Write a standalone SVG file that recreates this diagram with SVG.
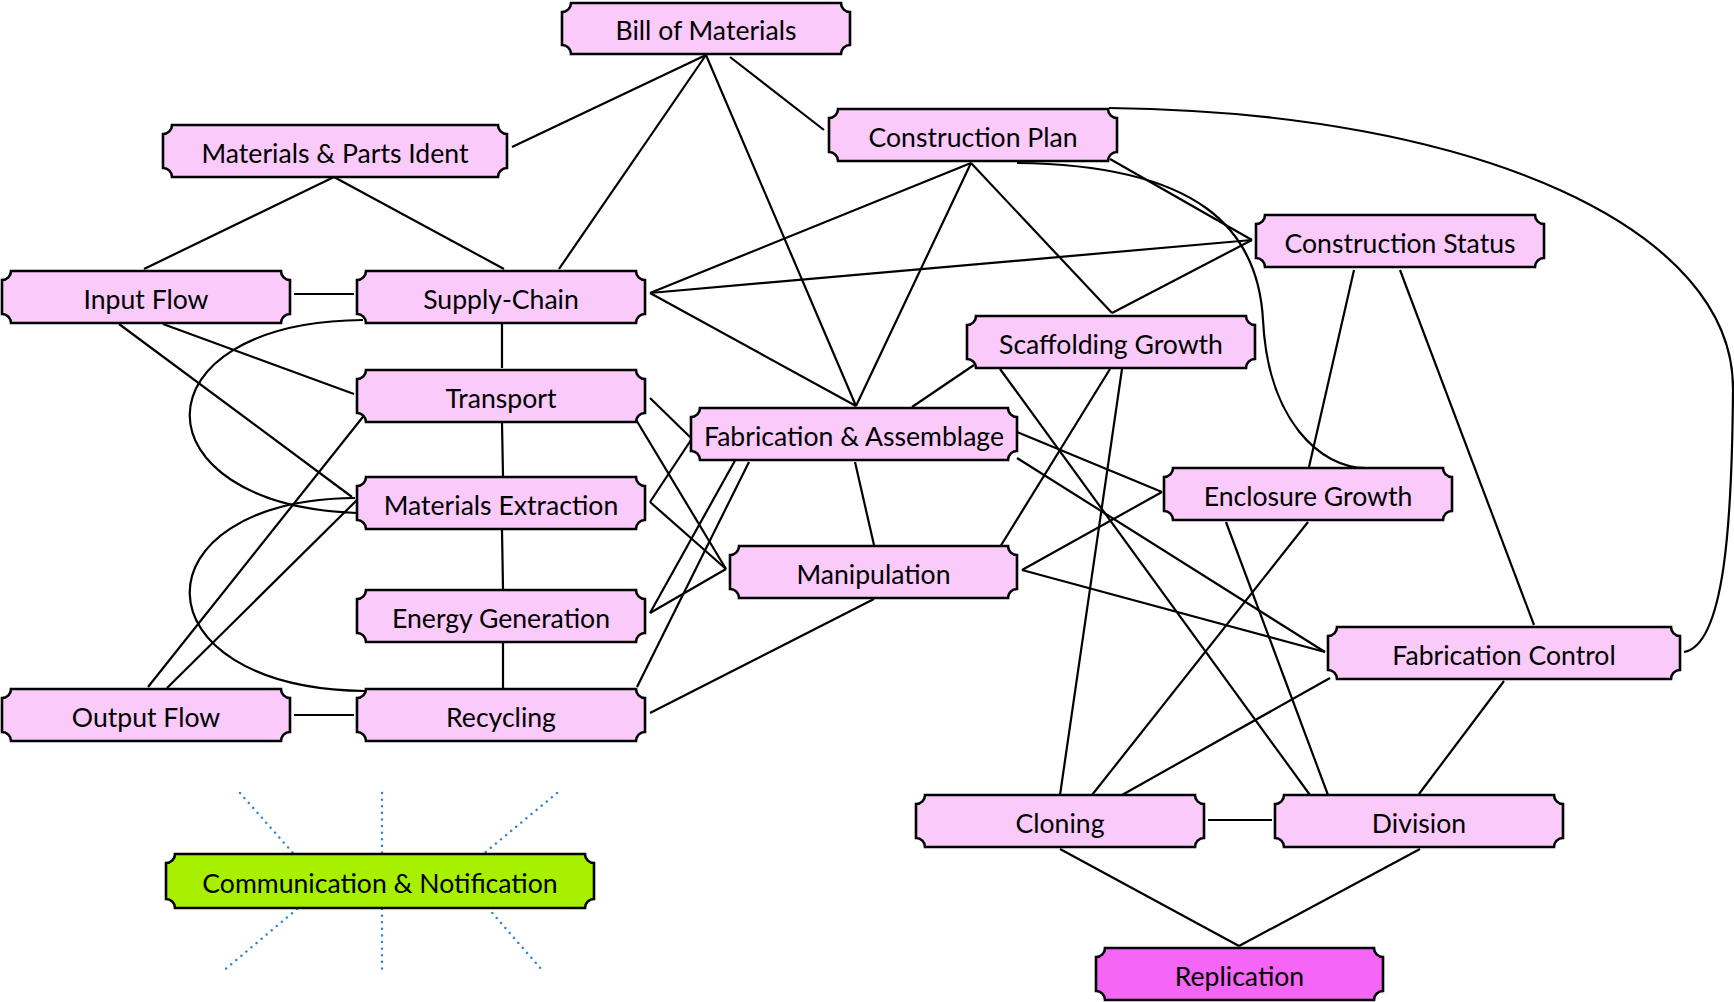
<svg xmlns="http://www.w3.org/2000/svg" width="1734" height="1002" viewBox="0 0 1734 1002">
<style>
.n path{fill:#facafb;stroke:#000;stroke-width:2.6}
.n.rep path{fill:#f565f6}
.n.com path{fill:#a6f000}
.n text{font-family:Lato,"Open Sans","Liberation Sans",sans-serif;font-size:26.6px;fill:#000;text-anchor:middle}
#edges line,#edges path{stroke:#000;stroke-width:2.2;fill:none}
#rays line{stroke:#2f7fd0;stroke-width:2.4;stroke-dasharray:0.1 6.5;stroke-linecap:round}
</style>
<rect width="1734" height="1002" fill="#fff"/>
<g id="edges">
<line x1="706" y1="55" x2="512" y2="147"/>
<line x1="706" y1="55" x2="559" y2="269"/>
<line x1="706" y1="55" x2="856" y2="406"/>
<line x1="730" y1="57" x2="824" y2="130"/>
<line x1="334" y1="177" x2="144" y2="269"/>
<line x1="334" y1="177" x2="504" y2="269"/>
<line x1="294" y1="294" x2="354" y2="294"/>
<line x1="119" y1="324" x2="352" y2="497"/>
<line x1="163" y1="324" x2="354" y2="394"/>
<line x1="502" y1="324" x2="502" y2="368"/>
<path d="M363,320 C133,322 133,505 357,513"/>
<line x1="650" y1="293" x2="971" y2="163"/>
<line x1="650" y1="293" x2="1252" y2="240"/>
<line x1="650" y1="293" x2="856" y2="406"/>
<line x1="502" y1="423" x2="503" y2="476"/>
<line x1="650" y1="398" x2="690" y2="437"/>
<line x1="635" y1="418" x2="726" y2="569"/>
<line x1="366" y1="413" x2="148" y2="687"/>
<line x1="357" y1="500" x2="167" y2="688"/>
<path d="M355,498 C133,500 133,688 365,691"/>
<line x1="650" y1="502" x2="691" y2="440"/>
<line x1="650" y1="502" x2="726" y2="569"/>
<line x1="502" y1="530" x2="503" y2="589"/>
<line x1="650" y1="613" x2="737" y2="457"/>
<line x1="650" y1="613" x2="726" y2="569"/>
<line x1="503" y1="643" x2="503" y2="688"/>
<line x1="637" y1="687" x2="749" y2="462"/>
<line x1="650" y1="713" x2="874" y2="599"/>
<line x1="294" y1="715" x2="354" y2="715"/>
<line x1="971" y1="163" x2="856" y2="406"/>
<line x1="971" y1="163" x2="1112" y2="313"/>
<line x1="1110" y1="159" x2="1252" y2="240"/>
<path d="M1017,163 C1200,165 1258,230 1263,320 C1268,420 1320,468 1366,468"/>
<path d="M1109,108 C1480,112 1735,230 1733,390 C1732,520 1725,645 1684,652"/>
<line x1="1252" y1="240" x2="1112" y2="313"/>
<line x1="1354" y1="270" x2="1309" y2="467"/>
<line x1="1400" y1="270" x2="1534" y2="625"/>
<line x1="974" y1="365" x2="912" y2="407"/>
<line x1="1110" y1="369" x2="1000" y2="547"/>
<line x1="1122" y1="369" x2="1060" y2="795"/>
<line x1="1000" y1="369" x2="1310" y2="795"/>
<line x1="855" y1="462" x2="874" y2="545"/>
<line x1="1017" y1="432" x2="1162" y2="492"/>
<line x1="1017" y1="458" x2="1325" y2="652"/>
<line x1="1022" y1="570" x2="1162" y2="492"/>
<line x1="1022" y1="570" x2="1325" y2="652"/>
<line x1="1308" y1="522" x2="1092" y2="795"/>
<line x1="1226" y1="522" x2="1328" y2="795"/>
<line x1="1330" y1="678" x2="1122" y2="795"/>
<line x1="1504" y1="681" x2="1419" y2="794"/>
<line x1="1208" y1="820" x2="1272" y2="820"/>
<line x1="1060" y1="849" x2="1239" y2="946"/>
<line x1="1420" y1="849" x2="1239" y2="946"/>
</g>
<g id="rays">
<line x1="240" y1="793" x2="293" y2="853"/>
<line x1="382" y1="793" x2="382" y2="853"/>
<line x1="557" y1="793" x2="482" y2="855"/>
<line x1="297" y1="909" x2="222" y2="972"/>
<line x1="382" y1="909" x2="382" y2="972"/>
<line x1="488" y1="908" x2="542" y2="970"/>
</g>
<g id="bill" class="n"><path d="M571,3 H841 A9 9 0 0 0 850,12 V45 A9 9 0 0 0 841,54 H571 A9 9 0 0 0 562,45 V12 A9 9 0 0 0 571,3 Z"/><text x="706" y="40">Bill of Materials</text></g>
<g id="mpi" class="n"><path d="M172,125 H498 A9 9 0 0 0 507,134 V168 A9 9 0 0 0 498,177 H172 A9 9 0 0 0 163,168 V134 A9 9 0 0 0 172,125 Z"/><text x="335" y="163">Materials &amp; Parts Ident</text></g>
<g id="cp" class="n"><path d="M838,109 H1108 A9 9 0 0 0 1117,118 V152 A9 9 0 0 0 1108,161 H838 A9 9 0 0 0 829,152 V118 A9 9 0 0 0 838,109 Z"/><text x="973" y="147">Construction Plan</text></g>
<g id="cs" class="n"><path d="M1265,215 H1535 A9 9 0 0 0 1544,224 V258 A9 9 0 0 0 1535,267 H1265 A9 9 0 0 0 1256,258 V224 A9 9 0 0 0 1265,215 Z"/><text x="1400" y="253">Construction Status</text></g>
<g id="input" class="n"><path d="M11,271 H281 A9 9 0 0 0 290,280 V314 A9 9 0 0 0 281,323 H11 A9 9 0 0 0 2,314 V280 A9 9 0 0 0 11,271 Z"/><text x="146" y="309">Input Flow</text></g>
<g id="sc" class="n"><path d="M366,271 H636 A9 9 0 0 0 645,280 V314 A9 9 0 0 0 636,323 H366 A9 9 0 0 0 357,314 V280 A9 9 0 0 0 366,271 Z"/><text x="501" y="309">Supply-Chain</text></g>
<g id="transport" class="n"><path d="M366,370 H636 A9 9 0 0 0 645,379 V413 A9 9 0 0 0 636,422 H366 A9 9 0 0 0 357,413 V379 A9 9 0 0 0 366,370 Z"/><text x="501" y="408">Transport</text></g>
<g id="me" class="n"><path d="M366,477 H636 A9 9 0 0 0 645,486 V520 A9 9 0 0 0 636,529 H366 A9 9 0 0 0 357,520 V486 A9 9 0 0 0 366,477 Z"/><text x="501" y="515">Materials Extraction</text></g>
<g id="energy" class="n"><path d="M366,590 H636 A9 9 0 0 0 645,599 V633 A9 9 0 0 0 636,642 H366 A9 9 0 0 0 357,633 V599 A9 9 0 0 0 366,590 Z"/><text x="501" y="628">Energy Generation</text></g>
<g id="recycling" class="n"><path d="M366,689 H636 A9 9 0 0 0 645,698 V732 A9 9 0 0 0 636,741 H366 A9 9 0 0 0 357,732 V698 A9 9 0 0 0 366,689 Z"/><text x="501" y="727">Recycling</text></g>
<g id="output" class="n"><path d="M11,689 H281 A9 9 0 0 0 290,698 V732 A9 9 0 0 0 281,741 H11 A9 9 0 0 0 2,732 V698 A9 9 0 0 0 11,689 Z"/><text x="146" y="727">Output Flow</text></g>
<g id="comm" class="n com"><path d="M175,854 H585 A9 9 0 0 0 594,863 V899 A9 9 0 0 0 585,908 H175 A9 9 0 0 0 166,899 V863 A9 9 0 0 0 175,854 Z"/><text x="380" y="893">Communication &amp; Notification</text></g>
<g id="fa" class="n"><path d="M700,408 H1008 A9 9 0 0 0 1017,417 V451 A9 9 0 0 0 1008,460 H700 A9 9 0 0 0 691,451 V417 A9 9 0 0 0 700,408 Z"/><text x="854" y="446">Fabrication &amp; Assemblage</text></g>
<g id="manip" class="n"><path d="M739,546 H1008 A9 9 0 0 0 1017,555 V589 A9 9 0 0 0 1008,598 H739 A9 9 0 0 0 730,589 V555 A9 9 0 0 0 739,546 Z"/><text x="873.5" y="584">Manipulation</text></g>
<g id="scaff" class="n"><path d="M976,316 H1246 A9 9 0 0 0 1255,325 V359 A9 9 0 0 0 1246,368 H976 A9 9 0 0 0 967,359 V325 A9 9 0 0 0 976,316 Z"/><text x="1111" y="354">Scaffolding Growth</text></g>
<g id="encl" class="n"><path d="M1173,468 H1443 A9 9 0 0 0 1452,477 V511 A9 9 0 0 0 1443,520 H1173 A9 9 0 0 0 1164,511 V477 A9 9 0 0 0 1173,468 Z"/><text x="1308" y="506">Enclosure Growth</text></g>
<g id="fc" class="n"><path d="M1337,627 H1671 A9 9 0 0 0 1680,636 V670 A9 9 0 0 0 1671,679 H1337 A9 9 0 0 0 1328,670 V636 A9 9 0 0 0 1337,627 Z"/><text x="1504" y="665">Fabrication Control</text></g>
<g id="cloning" class="n"><path d="M925,795 H1195 A9 9 0 0 0 1204,804 V838 A9 9 0 0 0 1195,847 H925 A9 9 0 0 0 916,838 V804 A9 9 0 0 0 925,795 Z"/><text x="1060" y="833">Cloning</text></g>
<g id="division" class="n"><path d="M1284,795 H1554 A9 9 0 0 0 1563,804 V838 A9 9 0 0 0 1554,847 H1284 A9 9 0 0 0 1275,838 V804 A9 9 0 0 0 1284,795 Z"/><text x="1419" y="833">Division</text></g>
<g id="replication" class="n rep"><path d="M1105,948 H1374 A9 9 0 0 0 1383,957 V991 A9 9 0 0 0 1374,1000 H1105 A9 9 0 0 0 1096,991 V957 A9 9 0 0 0 1105,948 Z"/><text x="1239.5" y="986">Replication</text></g>
</svg>
